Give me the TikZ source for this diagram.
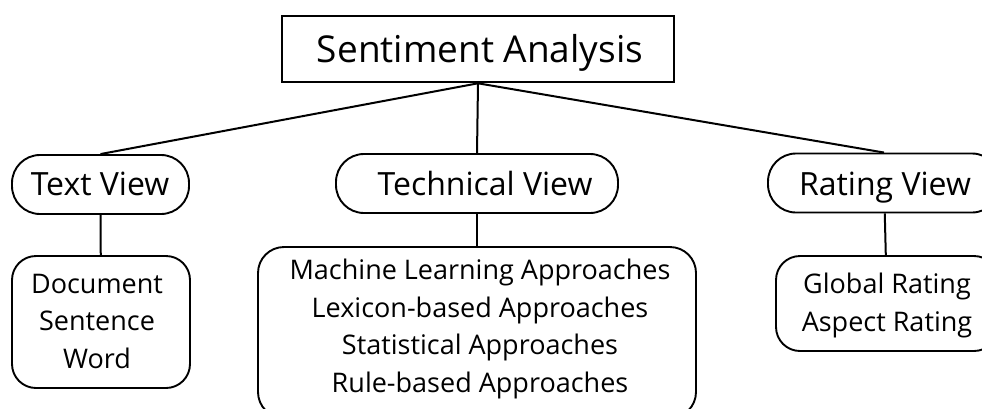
\documentclass[tikz,border=0pt]{standalone}
\usepackage{fontspec}
\setmainfont{Open Sans}
\begin{document}
\begin{tikzpicture}[x=1pt,y=-1pt,
  rootbox/.style={draw, line width=2.6pt, minimum width=392pt, minimum height=66pt, inner sep=0pt},
  viewbox/.style={draw, line width=1.9pt, rounded corners=28pt, minimum height=59pt, inner sep=0pt},
  listbox/.style={draw, line width=1.9pt, rounded corners=24pt, inner sep=0pt},
  rootlabel/.style={anchor=base, inner sep=0pt, font=\fontsize{37}{40}\selectfont},
  viewlabel/.style={anchor=base, inner sep=0pt, font=\fontsize{32}{36}\selectfont},
  listlabel/.style={anchor=base, inner sep=0pt, align=center, font=\fontsize{27}{37.5}\selectfont},
  link/.style={line width=2pt}
]
\useasboundingbox (0,0) rectangle (982,408);
\clip (0,0) rectangle (982,408);

% boxes
\node[rootbox] (root) at (478,49) {};
\node[viewbox, minimum width=177pt] (text) at (100.5,184.5) {};
\node[viewbox, minimum width=282pt] (tech) at (477,183.5) {};
\node[viewbox, minimum width=232pt] (rate) at (884,183) {};
\node[listbox, minimum width=178pt, minimum height=132pt] (levels) at (101,322) {};
\node[listbox, rounded corners=26pt, minimum width=438pt, minimum height=171pt] (approaches) at (477,332.5) {};
\node[listbox, minimum width=222pt, minimum height=95pt] (ratings) at (887,303.5) {};

% labels (base anchor = baseline of the last line)
\node[rootlabel] (rootT) at (480,62) {Sentiment Analysis};
\node[viewlabel] (textT) at (100,195) {Text View};
\node[viewlabel] (techT) at (485,195) {Technical View};
\node[viewlabel] (rateT) at (885,195) {Rating View};
\node[listlabel] (levelsT) at (97,368) {Document\\Sentence\\Word};
\node[listlabel] (approachesT) at (480,392) {Machine Learning Approaches\\Lexicon-based Approaches\\Statistical Approaches\\Rule-based Approaches};
\node[listlabel] (ratingsT) at (887,331) {Global Rating\\Aspect Rating};

% connectors
\draw[link] (root.south) -- (text.north);
\draw[link] (root.south) -- (tech.north);
\draw[link] (root.south) -- (rate.north);
\draw[link] (text) -- (levels);
\draw[link] (tech) -- (approaches);
\draw[link] (rate) -- (ratings);
\end{tikzpicture}
\end{document}
